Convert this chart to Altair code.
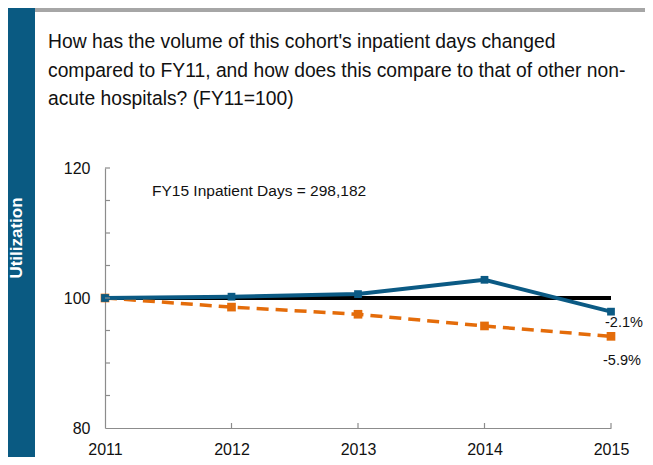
import altair as alt
import pandas as pd

# ---- data ----
years = [2011, 2012, 2013, 2014, 2015]
cohort = [100.0, 100.2, 100.6, 102.8, 97.9]       # this cohort (blue)
others = [100.0, 98.6, 97.5, 95.7, 94.1]         # other non-acute hospitals (orange, dashed)
baseline = [100, 100, 100, 100, 100]              # FY11 = 100 reference (black)
y_minor = [85, 90, 95, 100, 105, 110, 115, 120]
y_labels = [80, 100, 120]
end_labels = ["-2.1%", "-5.9%"]
title_lines = [
    "How has the volume of this cohort's inpatient days changed",
    "compared to FY11, and how does this compare to that of other non-",
    "acute hospitals? (FY11=100)",
]
note = "FY15 Inpatient Days = 298,182"
side_label = "Utilization"

W, H = 506, 260
FONT = "Liberation Sans, Arial, sans-serif"
BLUE = "#0B5A84"
ORANGE = "#E46C0A"
SIDE = "#0A5A82"
AXIS = "#8C8C8C"

xs = alt.Scale(domain=[2011, 2015], nice=False, zero=False)
ys = alt.Scale(domain=[80, 120], nice=False, zero=False)

x_axis = alt.Axis(values=years, format="d", tickSize=0, labelPadding=13,
                  labelFlush=False, labelOverlap=False, grid=False,
                  domainColor=AXIS, domainWidth=1.2, labelFont=FONT,
                  labelFontSize=16, labelColor="#111")
y_axis = alt.Axis(values=y_labels, tickSize=0, labelPadding=15,
                  labelFlush=False, labelOverlap=False, grid=False, domainColor=AXIS,
                  domainWidth=1.2, labelFont=FONT, labelFontSize=16,
                  labelColor="#111")

df = pd.DataFrame({"year": years, "cohort": cohort, "others": others, "base": baseline})
df_yt = pd.DataFrame({"v": y_minor})
df_xt = pd.DataFrame({"year": years[1:]})
df_lab = pd.DataFrame({"year": [2015, 2015], "v": [cohort[-1], others[-1]], "t": end_labels})

X = alt.X("year:Q", scale=xs, title=None, axis=x_axis)

def Yq(field):
    return alt.Y(f"{field}:Q", scale=ys, title=None, axis=y_axis)

base_line = alt.Chart(df).mark_line(color="black", strokeWidth=4).encode(x=X, y=Yq("base"))

other_line = alt.Chart(df).mark_line(color=ORANGE, strokeWidth=3.5, strokeDash=[12, 7]).encode(
    x=X, y=Yq("others"))
other_pts = alt.Chart(df).mark_point(shape="square", filled=True, opacity=1, color=ORANGE, size=75).encode(
    x=X, y=Yq("others"))

coh_line = alt.Chart(df).mark_line(color=BLUE, strokeWidth=4).encode(x=X, y=Yq("cohort"))
coh_pts = alt.Chart(df).mark_point(shape="square", filled=True, opacity=1, color=BLUE, size=60).encode(
    x=X, y=Yq("cohort"))

ytick = alt.Chart(df_yt).mark_rule(color=AXIS, strokeWidth=1.2).encode(
    y=Yq("v"), x=alt.value(0), x2=alt.value(5))
xtick = alt.Chart(df_xt).mark_rule(color=AXIS, strokeWidth=1.2).encode(
    x=X, y=alt.value(H), y2=alt.value(H - 5))

lab1 = alt.Chart(df_lab.iloc[[0]]).mark_text(align="left", baseline="middle", dx=-6, dy=11,
                                            font=FONT, fontSize=14.5, color="#111").encode(
    x=X, y=Yq("v"), text="t:N")
lab2 = alt.Chart(df_lab.iloc[[1]]).mark_text(align="left", baseline="middle", dx=-8, dy=25,
                                            font=FONT, fontSize=14.5, color="#111").encode(
    x=X, y=Yq("v"), text="t:N")

note_txt = alt.Chart(pd.DataFrame({"t": [note]})).mark_text(
    align="left", baseline="alphabetic", font=FONT, fontSize=15.5, color="#111").encode(
    x=alt.value(47), y=alt.value(28), text="t:N")

# decorative frame: sidebar, top rule, title, side label
sidebar = alt.Chart(pd.DataFrame({"a": [0]})).mark_rect(color=SIDE).encode(
    x=alt.value(-105), x2=alt.value(-70), y=alt.value(-163), y2=alt.value(300))
topbar = alt.Chart(pd.DataFrame({"a": [0]})).mark_rect(color="#A6A6A6").encode(
    x=alt.value(-70), x2=alt.value(W + 50), y=alt.value(-160), y2=alt.value(-156))
title_txt = alt.Chart(pd.DataFrame({"t": ["\n".join(title_lines)]})).mark_text(
    align="left", baseline="alphabetic", lineBreak="\n", lineHeight=28.5, font=FONT,
    fontSize=19.3, color="#111").encode(
    x=alt.value(-57), y=alt.value(-120), text="t:N")
side_txt = alt.Chart(pd.DataFrame({"t": [side_label]})).mark_text(
    align="center", baseline="middle", angle=270, font="Liberation Sans", fontWeight="bold",
    fontSize=17, color="white").encode(
    x=alt.value(-88), y=alt.value(70), text="t:N")

chart = alt.layer(
    base_line, sidebar, topbar, title_txt, side_txt, note_txt,
    other_line, other_pts, coh_line, coh_pts,
    ytick, xtick, lab1, lab2,
).properties(
    width=W, height=H,
    autosize=alt.AutoSizeParams(type="none"),
    padding={"left": 97, "top": 160, "right": 34, "bottom": 29},
    background="white",
).configure_view(stroke=None)

chart.save("out.html", embed_options={"renderer": "svg", "actions": False})
